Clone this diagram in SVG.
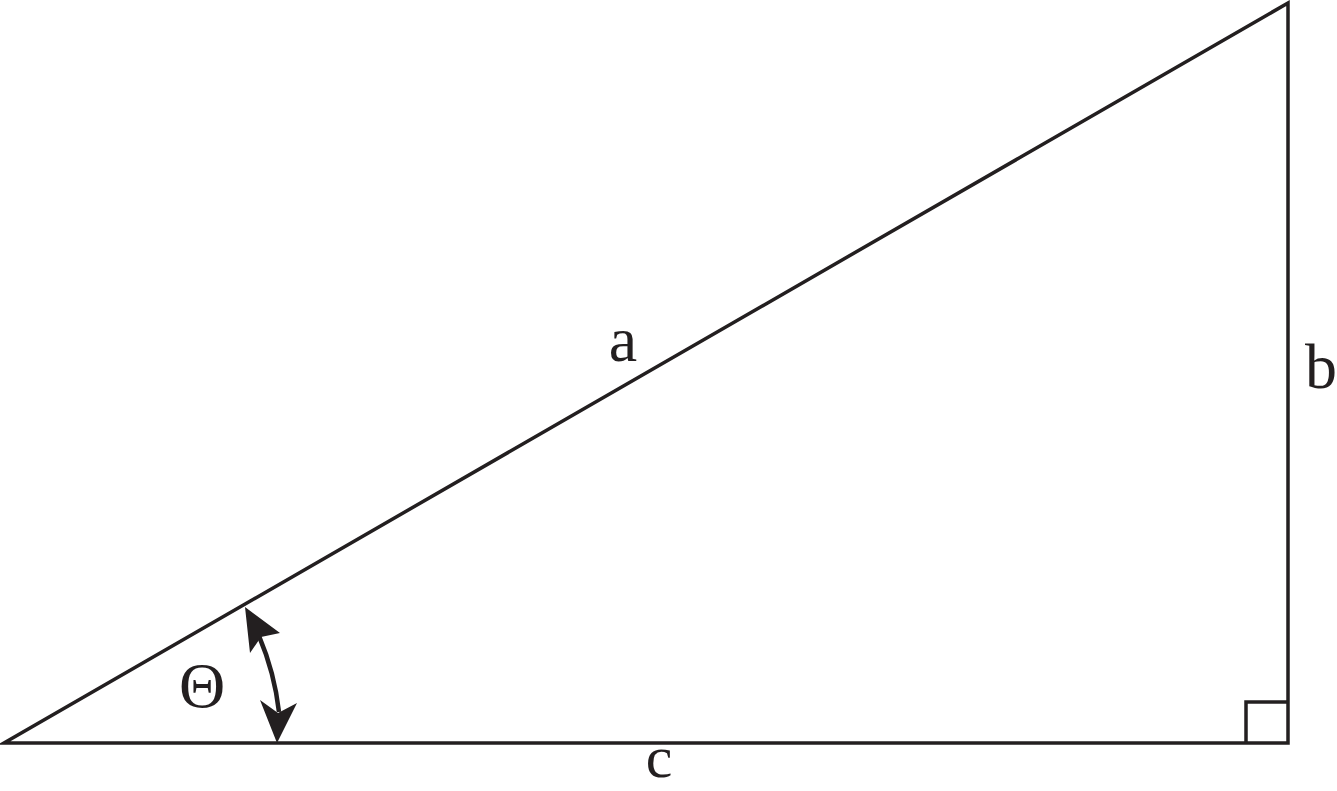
<svg xmlns="http://www.w3.org/2000/svg" width="1337" height="791" viewBox="0 0 1337 791">
<style>
.ln{fill:none;stroke:#231f20;stroke-width:3.5;stroke-linejoin:miter}
.ar{fill:none;stroke:#231f20;stroke-width:4.5}
.hd{fill:#231f20}
.lb{font-family:'Liberation Serif','Times New Roman',serif;font-size:64px;fill:#231f20;text-anchor:middle}
</style>
<rect width="1337" height="791" fill="#fff"/>
<g id="triangle">
<path class="ln" d="M4,743 L1288,743 L1288,3 Z"/>
<path class="ln" d="M1246,743 L1246,702 L1288,702"/>
</g>
<g id="connectors">
<path class="ar" d="M259,636 A275,275 0 0 1 279,712"/>
<polygon class="hd" points="245,607 280,633 261,637 250,653"/>
<polygon class="hd" points="277,743 260,700 278,713 297,703"/>
</g>
<g id="labels">
<text class="lb" x="623" y="361">a</text>
<text class="lb" x="1321" y="388">b</text>
<text class="lb" x="659" y="777" style="font-size:60px">c</text>
<text class="lb" x="202" y="707">Θ</text>
</g>
</svg>
